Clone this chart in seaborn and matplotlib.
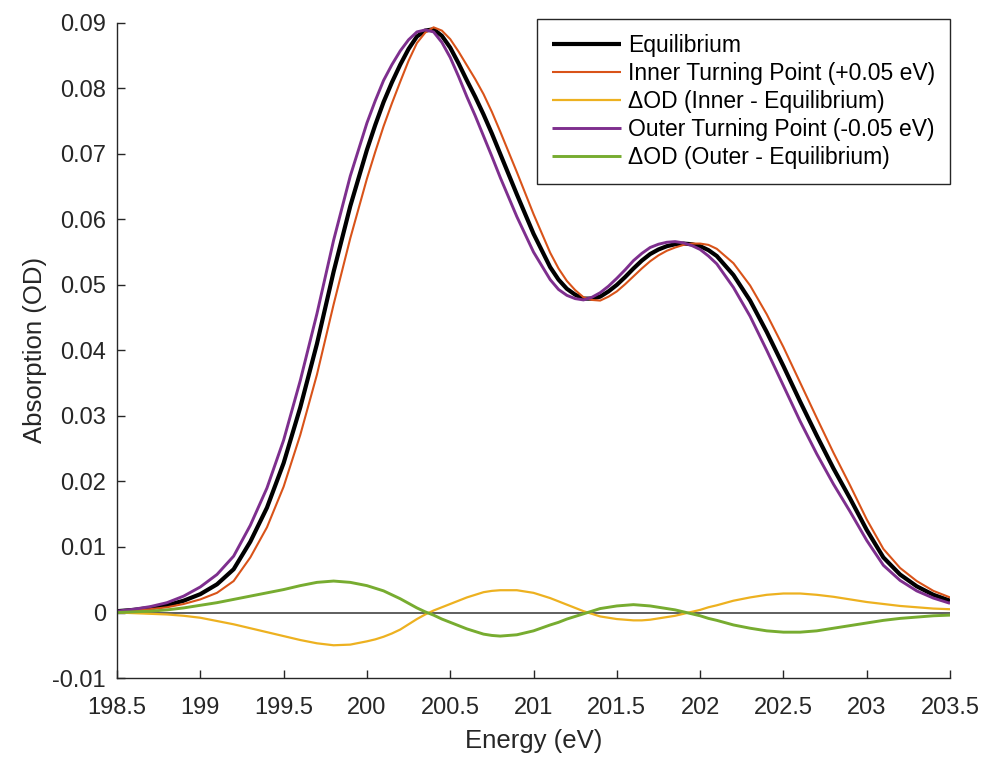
import matplotlib
matplotlib.use("Agg")
import matplotlib.pyplot as plt
import seaborn as sns

energy = [198.5, 198.6, 198.7, 198.8, 198.9, 199.0, 199.1, 199.2, 199.3, 199.4,
          199.5, 199.6, 199.7, 199.8, 199.9, 200.0, 200.05, 200.1, 200.15, 200.2,
          200.25, 200.3, 200.35, 200.4, 200.45, 200.5, 200.55, 200.6, 200.65, 200.7,
          200.75, 200.8, 200.9, 201.0, 201.1, 201.15, 201.2, 201.25, 201.3, 201.35,
          201.4, 201.45, 201.5, 201.55, 201.6, 201.65, 201.7, 201.75, 201.8, 201.85,
          201.9, 201.95, 202.0, 202.05, 202.1, 202.2, 202.3, 202.4, 202.5, 202.6,
          202.7, 202.8, 202.9, 203.0, 203.1, 203.2, 203.3, 203.4, 203.5]

equilibrium = [0.0002, 0.0004, 0.0007, 0.0011, 0.0018, 0.0028, 0.0043, 0.0066, 0.0108, 0.0160,
               0.0228, 0.0313, 0.0410, 0.0520, 0.0620, 0.0706, 0.0744, 0.0779, 0.0809, 0.0836,
               0.0860, 0.0879, 0.0888, 0.0890, 0.0880, 0.0862, 0.0838, 0.0812, 0.0787, 0.0760,
               0.0731, 0.0700, 0.0638, 0.0578, 0.0527, 0.0508, 0.0494, 0.0485, 0.0479, 0.0479,
               0.0482, 0.0490, 0.0500, 0.0512, 0.0525, 0.0537, 0.0547, 0.0554, 0.0559, 0.0562,
               0.0563, 0.0562, 0.0559, 0.0553, 0.0544, 0.0515, 0.0476, 0.0428, 0.0376, 0.0322,
               0.0270, 0.0220, 0.0174, 0.0126, 0.0084, 0.0058, 0.0040, 0.0027, 0.0018]

inner = [0.0002, 0.0003, 0.0005, 0.0008, 0.0013, 0.0020, 0.0030, 0.0048, 0.0084, 0.0130,
         0.0192, 0.0271, 0.0363, 0.0470, 0.0571, 0.0662, 0.0703, 0.0742, 0.0777, 0.0810,
         0.0842, 0.0869, 0.0885, 0.0893, 0.0888, 0.0875, 0.0856, 0.0835, 0.0814, 0.0791,
         0.0764, 0.0734, 0.0672, 0.0608, 0.0549, 0.0525, 0.0506, 0.0492, 0.0481, 0.0477,
         0.0476, 0.0482, 0.0490, 0.0501, 0.0513, 0.0525, 0.0536, 0.0545, 0.0552, 0.0557,
         0.0561, 0.0563, 0.0563, 0.0561, 0.0555, 0.0533, 0.0499, 0.0455, 0.0405, 0.0351,
         0.0297, 0.0244, 0.0194, 0.0142, 0.0097, 0.0068, 0.0048, 0.0033, 0.0023]

d_inner = [0.0000, -0.0001, -0.0002, -0.0003, -0.0005, -0.0008, -0.0013, -0.0018, -0.0024, -0.0030,
           -0.0036, -0.0042, -0.0047, -0.0050, -0.0049, -0.0044, -0.0041, -0.0037, -0.0032, -0.0026,
           -0.0018, -0.0010, -0.0003, 0.0003, 0.0008, 0.0013, 0.0018, 0.0023, 0.0027, 0.0031,
           0.0033, 0.0034, 0.0034, 0.0030, 0.0022, 0.0017, 0.0012, 0.0007, 0.0002, -0.0002,
           -0.0006, -0.0008, -0.0010, -0.0011, -0.0012, -0.0012, -0.0011, -0.0009, -0.0007, -0.0005,
           -0.0002, 0.0001, 0.0004, 0.0008, 0.0011, 0.0018, 0.0023, 0.0027, 0.0029, 0.0029,
           0.0027, 0.0024, 0.0020, 0.0016, 0.0013, 0.0010, 0.0008, 0.0006, 0.0005]

outer = [0.0002, 0.0005, 0.0009, 0.0015, 0.0025, 0.0039, 0.0058, 0.0086, 0.0133, 0.0190,
         0.0263, 0.0354, 0.0456, 0.0568, 0.0666, 0.0747, 0.0781, 0.0812, 0.0836, 0.0857,
         0.0874, 0.0886, 0.0889, 0.0886, 0.0870, 0.0847, 0.0818, 0.0787, 0.0758, 0.0727,
         0.0696, 0.0664, 0.0604, 0.0550, 0.0508, 0.0493, 0.0484, 0.0479, 0.0477, 0.0481,
         0.0488, 0.0498, 0.0510, 0.0523, 0.0537, 0.0548, 0.0557, 0.0562, 0.0565, 0.0566,
         0.0564, 0.0560, 0.0554, 0.0544, 0.0532, 0.0496, 0.0452, 0.0400, 0.0346, 0.0292,
         0.0242, 0.0196, 0.0154, 0.0110, 0.0072, 0.0049, 0.0033, 0.0022, 0.0014]

d_outer = [0.0000, 0.0001, 0.0002, 0.0004, 0.0007, 0.0011, 0.0015, 0.0020, 0.0025, 0.0030,
           0.0035, 0.0041, 0.0046, 0.0048, 0.0046, 0.0041, 0.0037, 0.0033, 0.0027, 0.0021,
           0.0014, 0.0007, 0.0001, -0.0004, -0.0010, -0.0015, -0.0020, -0.0025, -0.0029, -0.0033,
           -0.0035, -0.0036, -0.0034, -0.0028, -0.0019, -0.0015, -0.0010, -0.0006, -0.0002, 0.0002,
           0.0006, 0.0008, 0.0010, 0.0011, 0.0012, 0.0011, 0.0010, 0.0008, 0.0006, 0.0004,
           0.0001, -0.0002, -0.0005, -0.0009, -0.0012, -0.0019, -0.0024, -0.0028, -0.0030, -0.0030,
           -0.0028, -0.0024, -0.0020, -0.0016, -0.0012, -0.0009, -0.0007, -0.0005, -0.0004]

series_labels = ["Equilibrium", "Inner Turning Point (+0.05 eV)", "\u0394OD (Inner - Equilibrium)",
                 "Outer Turning Point (-0.05 eV)", "\u0394OD (Outer - Equilibrium)"]
x_ticks = [198.5, 199, 199.5, 200, 200.5, 201, 201.5, 202, 202.5, 203, 203.5]
x_tick_labels = ["198.5", "199", "199.5", "200", "200.5", "201", "201.5", "202", "202.5", "203", "203.5"]
y_ticks = [-0.01, 0, 0.01, 0.02, 0.03, 0.04, 0.05, 0.06, 0.07, 0.08, 0.09]
y_tick_labels = ["-0.01", "0", "0.01", "0.02", "0.03", "0.04", "0.05", "0.06", "0.07", "0.08", "0.09"]

sns.set_style("ticks")
plt.rcParams["font.family"] = ["Liberation Sans", "DejaVu Sans"]
axis_color = "#262626"

fig = plt.figure(figsize=(9.85, 7.58), dpi=100)
ax = fig.add_axes([0.1188, 0.1055, 0.8457, 0.8645])

ax.axhline(0, color="#333333", lw=1.1, zorder=1)

styles = [("#000000", 3.0), ("#D95319", 1.5), ("#EDB120", 1.6), ("#7E2F8E", 2.1), ("#77AC30", 2.1)]
for ys, lab, (col, lw) in zip([equilibrium, inner, d_inner, outer, d_outer], series_labels, styles):
    sns.lineplot(x=energy, y=ys, ax=ax, color=col, lw=lw, label=lab, zorder=2,
                 solid_joinstyle="round", solid_capstyle="butt")

ax.set_xlim(198.5, 203.5)
ax.set_ylim(-0.01, 0.09)
ax.set_xticks(x_ticks)
ax.set_xticklabels(x_tick_labels)
ax.set_yticks(y_ticks)
ax.set_yticklabels(y_tick_labels)

for s in ["top", "right"]:
    ax.spines[s].set_visible(False)
for s in ["left", "bottom"]:
    ax.spines[s].set_color(axis_color)
    ax.spines[s].set_linewidth(1.0)

ax.tick_params(axis="both", direction="in", length=6, width=1.0, colors=axis_color,
               labelsize=17, labelcolor=axis_color)
ax.tick_params(axis="x", pad=14)
ax.tick_params(axis="y", pad=8)

ax.set_xlabel("Energy (eV)", fontsize=18.5, color=axis_color, labelpad=7)
ax.set_ylabel("Absorption (OD)", fontsize=18.5, color=axis_color, labelpad=4)

leg = ax.legend(loc="upper right", bbox_to_anchor=(1.0, 1.006), fontsize=16.5,
                frameon=True, fancybox=False, edgecolor="#262626", framealpha=1,
                handlelength=3.0, handletextpad=0.3, labelspacing=0.22,
                borderpad=0.65, borderaxespad=0.0)
leg.get_frame().set_linewidth(1.0)
for t in leg.get_texts():
    t.set_color("#000000")

fig.savefig("out.png", dpi=100)
